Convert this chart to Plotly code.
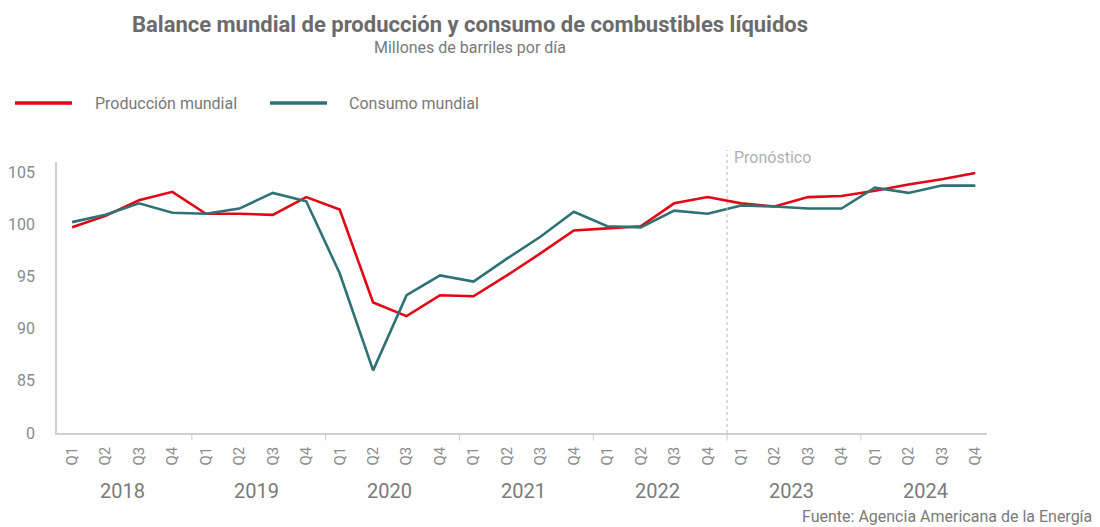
import plotly.graph_objects as go

years = ["2018", "2019", "2020", "2021", "2022", "2023", "2024"]
quarters = ["Q1", "Q2", "Q3", "Q4"]
categories = [f"{y} {q}" for y in years for q in quarters]
tick_labels = [q for y in years for q in quarters]

produccion = [99.7, 100.8, 102.3, 103.1,
              101.0, 101.0, 100.9, 102.6,
              101.4, 92.5, 91.2, 93.2,
              93.1, 95.1, 97.2, 99.4,
              99.6, 99.8, 102.0, 102.6,
              102.0, 101.7, 102.6, 102.7,
              103.2, 103.8, 104.3, 104.9]
consumo = [100.2, 100.9, 102.0, 101.1,
           101.0, 101.5, 103.0, 102.2,
           95.3, 86.0, 93.2, 95.1,
           94.5, 96.7, 98.8, 101.2,
           99.8, 99.7, 101.3, 101.0,
           101.8, 101.7, 101.5, 101.5,
           103.5, 103.0, 103.7, 103.7]

y_tickvals = [80, 85, 90, 95, 100, 105]
y_ticktext = ["0", "85", "90", "95", "100", "105"]

RED = "#E30613"
TEAL = "#2E7275"
GRAY = "#8a8a8a"
FONT = "Roboto"

# page body has an 8px margin: design in window pixels, figure is shifted by 8
OFF = 8
PL, PR, PT, PB = 57, 987, 162, 433  # plot area in window pixels

def px(xw):
    return (xw - PL) / (PR - PL)

def py(yw):
    return (PB - yw) / (PB - PT)

x_idx = list(range(len(categories)))

fig = go.Figure()
fig.add_trace(go.Scatter(x=x_idx, y=produccion, mode="lines", name="Producción mundial",
                         line=dict(color=RED, width=2.6)))
fig.add_trace(go.Scatter(x=x_idx, y=consumo, mode="lines", name="Consumo mundial",
                         line=dict(color=TEAL, width=2.6)))

shapes = []
annotations = []

for k in range(1, len(years)):
    xv = 4 * k - 0.42
    shapes.append(dict(type="line", xref="x", yref="paper", x0=xv, x1=xv, y0=0, y1=-0.028,
                       line=dict(color="#cccccc", width=1)))
fx = 4 * 5 - 0.42
shapes.append(dict(type="line", xref="x", yref="paper", x0=fx, x1=fx, y0=0, y1=py(150),
                   line=dict(color="#bbbbbb", width=1, dash="dot")))
annotations.append(dict(text="Pronóstico", xref="x", yref="paper", x=fx, y=py(157),
                        xanchor="left", yanchor="middle", xshift=5, showarrow=False,
                        font=dict(family=FONT, size=16, color="#b0b0b0")))

for k, yr in enumerate(years):
    annotations.append(dict(text=yr, xref="x", yref="paper", x=4 * k + 1.5, y=py(491),
                            yanchor="middle", showarrow=False,
                            font=dict(family=FONT, size=20, color="#7a7a7a")))

leg = [("Producción mundial", RED, 15, 72, 93), ("Consumo mundial", TEAL, 270, 327, 347)]
for name, col, x0, x1, xt in leg:
    shapes.append(dict(type="line", xref="paper", yref="paper",
                       x0=px(x0), x1=px(x1), y0=py(103), y1=py(103),
                       line=dict(color=col, width=3.5)))
    annotations.append(dict(text=name, xref="paper", yref="paper", x=px(xt),
                            y=py(103), xanchor="left", yanchor="middle", showarrow=False,
                            font=dict(family=FONT, size=16, color="#777777")))

annotations.append(dict(text="<b>Balance mundial de producción y consumo de combustibles líquidos</b>",
                        xref="paper", yref="paper", x=px(470), y=py(24),
                        xanchor="center", yanchor="middle", showarrow=False,
                        font=dict(family=FONT, size=22, color="#6b6b6b")))
annotations.append(dict(text="Millones de barriles por día",
                        xref="paper", yref="paper", x=px(470), y=py(48),
                        xanchor="center", yanchor="middle", showarrow=False,
                        font=dict(family=FONT, size=16, color="#7a7a7a")))
annotations.append(dict(text="Fuente: Agencia Americana de la Energía",
                        xref="paper", yref="paper", x=px(1094), y=py(516),
                        xanchor="right", yanchor="middle", showarrow=False,
                        font=dict(family=FONT, size=16, color="#7a7a7a")))

W, H = 1100 - OFF, 527 - OFF
fig.update_layout(
    width=W, height=H,
    margin=dict(l=PL - OFF, r=W - (PR - OFF), t=PT - OFF, b=H - (PB - OFF), autoexpand=False),
    paper_bgcolor="white", plot_bgcolor="white",
    showlegend=False,
    shapes=shapes, annotations=annotations,
    font=dict(family=FONT, color=GRAY),
    xaxis=dict(range=[-0.45, 27.35], tickmode="array", tickvals=x_idx, ticktext=tick_labels,
               tickangle=-90, showgrid=False, zeroline=False, showline=True, automargin=False,
               linecolor="#d0d0d0", linewidth=1.5, ticks="", ticklabelstandoff=6,
               tickfont=dict(family=FONT, size=15, color=GRAY)),
    yaxis=dict(range=[80, 105.96], tickmode="array", tickvals=y_tickvals, ticktext=y_ticktext,
               showgrid=False, zeroline=False, showline=True, linecolor="#d0d0d0", linewidth=1.5,
               ticks="", ticklabelstandoff=17, automargin=False,
               tickfont=dict(family=FONT, size=16, color=GRAY)),
)

fig.write_html("out.html")
